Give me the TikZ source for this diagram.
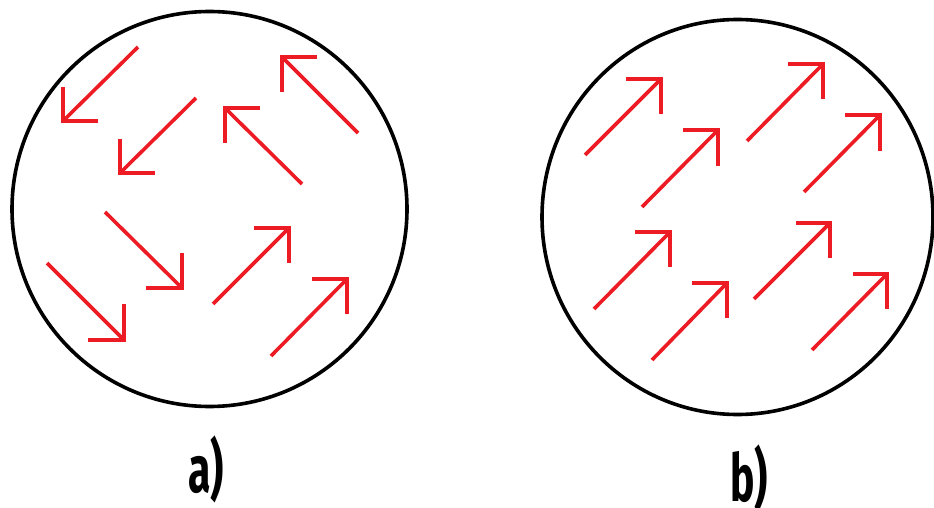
\documentclass[tikz,border=0pt]{standalone}
\usepackage{fontspec}
\setmainfont{Fira Sans}
\definecolor{arrred}{RGB}{237,28,36}
\newcommand{\magarrow}[6]{%
  \draw[vec] (#1,#2) -- (#3,#4);
  \draw[vec,line join=miter] (#3,#4) ++(#5,0) -- ++(-#5,0) -- ++(0,#6);
}
\begin{document}
\begin{tikzpicture}[x=1pt,y=-1pt,
  vec/.style={draw=arrred,line width=3.6pt},
  rim/.style={draw=black,line width=3.6pt},
  lbl/.style={font=\bfseries\fontsize{66}{66}\selectfont,inner sep=0pt}]
\useasboundingbox[fill=white] (0,0) rectangle (934,508);
% circle a
\draw[rim] (209.5,209) circle[radius=197.5];
% circle b
\draw[rim] (737.5,217) ellipse[x radius=195.5,y radius=197.5];
% arrows in a
\magarrow{138}{47}{63}{121}{35}{-34}
\magarrow{196}{98}{120}{173}{35}{-34}
\magarrow{302}{184}{225}{108}{35}{35}
\magarrow{358}{133}{282}{57}{35}{35}
\magarrow{105}{212}{182}{288}{-36}{-35}
\magarrow{47}{263}{124}{340}{-36}{-36}
\magarrow{213}{304}{289}{228}{-35}{35}
\magarrow{271}{356}{347}{279}{-35}{35}
% arrows in b
\magarrow{585}{155}{661}{79}{-35}{35}
\magarrow{642}{207}{718}{130}{-35}{36}
\magarrow{747}{141}{823}{64}{-35}{35}
\magarrow{804}{192}{880}{115}{-35}{36}
\magarrow{594}{309}{670}{232}{-35}{35}
\magarrow{652}{360}{727}{283}{-35}{35}
\magarrow{754}{299}{830}{223}{-34}{35}
\magarrow{812}{350}{887}{274}{-34}{35}
% labels
\node[lbl,anchor=base] (la) at (206,492) {\scalebox{0.62}[1]{a)}};
\node[lbl,anchor=base] (lb) at (749,501) {\scalebox{0.62}[1]{b)}};
\end{tikzpicture}
\end{document}
